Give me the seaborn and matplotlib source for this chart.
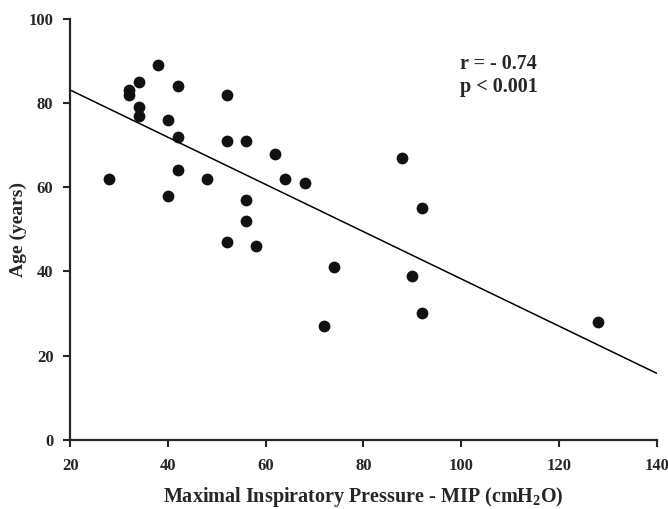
import pandas as pd
import matplotlib.pyplot as plt
import seaborn as sns

# MIP (cmH2O) vs age (years)
mip = [28, 32, 32, 34, 34, 34, 38, 40, 40, 42, 42, 42, 48, 52, 52, 52,
       56, 56, 56, 58, 62, 64, 68, 72, 74, 88, 90, 92, 92, 128]
age = [62, 83, 82, 85, 79, 77, 89, 76, 58, 84, 72, 64, 62, 82, 71, 47,
       71, 57, 52, 46, 68, 62, 61, 27, 41, 67, 39, 55, 30, 28]
x_ticks = [20, 40, 60, 80, 100, 120, 140]
y_ticks = [0, 20, 40, 60, 80, 100]

df = pd.DataFrame({"mip": mip, "age": age})

sns.set_style("ticks")
plt.rcParams['font.family'] = ['Liberation Serif', 'DejaVu Serif']
plt.rcParams['font.weight'] = 'bold'
plt.rcParams['mathtext.fontset'] = 'custom'
plt.rcParams['mathtext.rm'] = 'Liberation Serif:bold'
plt.rcParams['mathtext.bf'] = 'Liberation Serif:bold'

fig = plt.figure(figsize=(6.68, 5.09), dpi=100)
ax = fig.add_axes([0.105, 0.136, 0.878, 0.827])
ax.set_xlim(20, 140)
ax.set_ylim(0, 100)

sns.regplot(data=df, x="mip", y="age", ax=ax, ci=None, truncate=False,
            scatter_kws={"s": 72, "color": "#111111", "alpha": 1, "linewidths": 0},
            line_kws={"color": "black", "lw": 1.1})

ax.set_xlim(20, 140)
ax.set_ylim(0, 100)
ax.set_xticks(x_ticks)
ax.set_yticks(y_ticks)
ax.tick_params(labelsize=12, width=1.5, length=5, direction='out')
ax.tick_params(axis='x', pad=8)
ax.tick_params(axis='y', pad=7)
for lab in ax.get_xticklabels() + ax.get_yticklabels():
    lab.set_fontweight('bold')
for s in ['left', 'bottom']:
    ax.spines[s].set_linewidth(1.6)
sns.despine(ax=ax)

ax.set_xlabel("Maximal Inspiratory Pressure - MIP (cmH$_\\mathrm{2}$O)",
              fontsize=14.5, fontweight='bold', labelpad=8)
ax.set_ylabel("Age (years)", fontsize=14, fontweight='bold')
ax.yaxis.set_label_coords(-0.074, 0.5)

ax.text(99.8, 86.6, "r = - 0.74\np < 0.001", fontsize=14.5, fontweight='bold',
        va='center', ha='left', linespacing=1.2)

fig.savefig("out.png", dpi=100)
